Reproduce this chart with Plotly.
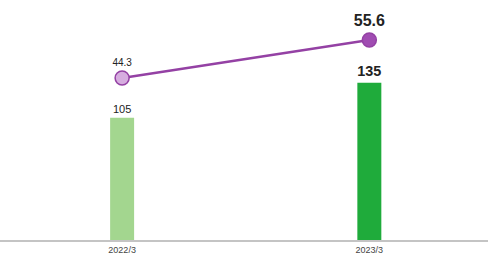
import plotly.graph_objects as go

categories = ["2022/3", "2023/3"]
bar_values = [105, 135]
line_values = [44.3, 55.6]
bar_labels = ["105", "<b>135</b>"]
line_labels = ["44.3", "<b>55.6</b>"]

bar_colors = ["#a3d68f", "#1fab3b"]
marker_fills = ["#d6addf", "#a04cb2"]

fig = go.Figure()
fig.add_trace(go.Bar(
    x=categories, y=bar_values,
    marker=dict(color=bar_colors, line=dict(width=0)),
    width=0.097,
    text=bar_labels, textposition="outside",
    textfont=dict(size=[11, 17], color="#222", family="Liberation Sans"),
    cliponaxis=False,
))
fig.add_trace(go.Scatter(
    x=categories, y=line_values, yaxis="y2",
    mode="lines+markers+text",
    line=dict(color="#9441a4", width=2.5),
    marker=dict(size=14, color=marker_fills, line=dict(color="#9441a4", width=1.5)),
    text=line_labels, textposition="top center",
    textfont=dict(size=[10, 16], color="#222", family="Liberation Sans"),
    cliponaxis=False,
))

fig.update_layout(
    width=492, height=257,
    margin=dict(l=0, r=4, t=0, b=17),
    paper_bgcolor="white", plot_bgcolor="white",
    showlegend=False,
    xaxis=dict(range=[-0.494, 1.48], showline=True, linecolor="#c4c4c4", linewidth=2,
               showgrid=False, ticks="", tickfont=dict(size=9, color="#444", family="Liberation Sans")),
    yaxis=dict(range=[0, 206], visible=False, showgrid=False),
    yaxis2=dict(range=[-3.87, 67.5], overlaying="y", visible=False, showgrid=False),
)

fig.write_html("out.html", config={"displayModeBar": False})
with open("out.html", "r", encoding="utf-8") as f:
    html = f.read()
html = html.replace("<head>", "<head><style>html,body{margin:0;padding:0;overflow:hidden;}</style>", 1)
with open("out.html", "w", encoding="utf-8") as f:
    f.write(html)
